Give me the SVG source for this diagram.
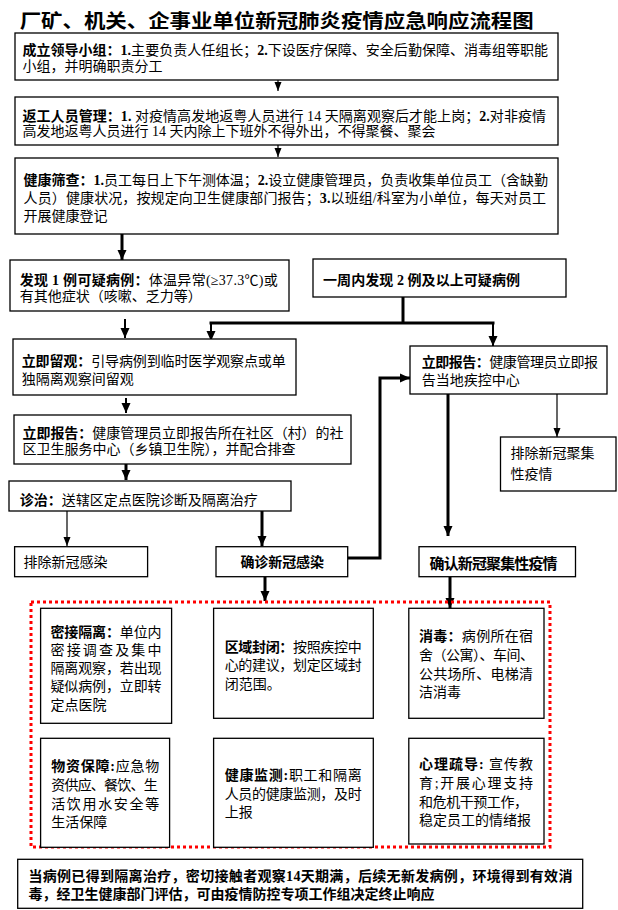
<svg xmlns="http://www.w3.org/2000/svg" width="618" height="910" viewBox="0 0 618 910">
<style>
.bx{fill:#fff;stroke:#000;stroke-width:1.3}
.t{font-family:"Liberation Serif","Noto Sans CJK SC",serif;font-size:14px;fill:#000}
.b{font-weight:bold}
.ti{font-family:"Noto Sans CJK SC",sans-serif;font-size:19.5px;font-weight:bold;fill:#000}
.c{fill:none;stroke:#000}
.k3{stroke-width:3}
.k2{stroke-width:2}
.k1{stroke-width:1.2}
.dot{fill:none;stroke:#ff0000;stroke-width:3;stroke-dasharray:3 3}
</style>
<defs>
<marker id="ab" markerUnits="userSpaceOnUse" markerWidth="10" markerHeight="10" refX="10" refY="5" orient="auto"><path d="M0,0.5 L10,5 L0,9.5 z" fill="#000"/></marker>
<marker id="as" markerUnits="userSpaceOnUse" markerWidth="9" markerHeight="8" refX="9" refY="4" orient="auto"><path d="M0,0.5 L9,4 L0,7.5 z" fill="#000"/></marker>
</defs>
<rect width="618" height="910" fill="#fff"/>
<text class="ti" x="19.7" y="28" textLength="514" lengthAdjust="spacingAndGlyphs">厂矿、机关、企事业单位新冠肺炎疫情应急响应流程图</text>

<g id="connectors">
<line class="c k1" x1="278" y1="80" x2="278" y2="91" marker-end="url(#as)"/>
<line class="c k1" x1="278" y1="145" x2="278" y2="157" marker-end="url(#as)"/>
<line class="c k3" x1="122" y1="234" x2="122" y2="260" marker-end="url(#ab)"/>
<line class="c k2" x1="125" y1="319" x2="125" y2="338" marker-end="url(#ab)"/>
<polyline class="c k3" points="403,297 403,323"/>
<line class="c k3" x1="209.5" y1="323" x2="494.5" y2="323"/>
<line class="c k2" x1="211" y1="323" x2="211" y2="341" marker-end="url(#ab)"/>
<line class="c k2" x1="493" y1="323" x2="493" y2="346" marker-end="url(#ab)"/>
<line class="c k2" x1="126" y1="398" x2="126" y2="413" marker-end="url(#ab)"/>
<line class="c k3" x1="126" y1="464" x2="126" y2="480" marker-end="url(#ab)"/>
<line class="c k1" x1="67" y1="511" x2="67" y2="546" marker-end="url(#as)"/>
<line class="c k3" x1="262" y1="511" x2="262" y2="546" marker-end="url(#ab)"/>
<polyline class="c k3" points="348,558 380,558 380,378 410,378" marker-end="url(#ab)"/>
<line class="c k1" x1="557" y1="394" x2="557" y2="437" marker-end="url(#as)"/>
<line class="c k3" x1="448" y1="394" x2="448" y2="536" marker-end="url(#ab)"/>
<line class="c k3" x1="265" y1="577" x2="265" y2="601" marker-end="url(#ab)"/>
<line class="c k3" x1="450" y1="577" x2="450" y2="608" marker-end="url(#ab)"/>
</g>

<g id="n1">
<rect class="bx" x="15" y="33" width="543" height="47"/>
<text class="t" x="22.5" y="55" textLength="525.5"><tspan class="b">成立领导小组：1.</tspan>主要负责人任组长；<tspan class="b">2.</tspan>下设医疗保障、安全后勤保障、消毒组等职能</text>
<text class="t" x="22.5" y="71">小组，并明确职责分工</text>
</g>
<g id="n2">
<rect class="bx" x="15" y="97" width="543" height="48"/>
<text class="t" x="22.5" y="120.5" textLength="523.5"><tspan class="b">返工人员管理：1.</tspan> 对疫情高发地返粤人员进行 14 天隔离观察后才能上岗；<tspan class="b">2.</tspan>对非疫情</text>
<text class="t" x="22.5" y="135.5" textLength="413">高发地返粤人员进行 14 天内除上下班外不得外出，不得聚餐、聚会</text>
</g>
<g id="n3">
<rect class="bx" x="15" y="158" width="543" height="76"/>
<text class="t" x="23.6" y="185" textLength="524.4"><tspan class="b">健康筛查：1.</tspan>员工每日上下午测体温；<tspan class="b">2.</tspan>设立健康管理员，负责收集单位员工（含缺勤</text>
<text class="t" x="23.6" y="203" textLength="522.4">人员）健康状况，按规定向卫生健康部门报告；<tspan class="b">3.</tspan>以班组/科室为小单位，每天对员工</text>
<text class="t" x="23.6" y="221">开展健康登记</text>
</g>
<g id="n4">
<rect class="bx" x="10" y="260" width="279" height="51"/>
<text class="t" x="19.7" y="284.5" textLength="258"><tspan class="b">发现 1 例可疑病例：</tspan>体温异常(≥37.3℃)或</text>
<text class="t" x="19.7" y="301">有其他症状（咳嗽、乏力等）</text>
</g>
<g id="n5">
<rect class="bx" x="313" y="259" width="253" height="38"/>
<text class="t b" x="323" y="285" textLength="197">一周内发现 2 例及以上可疑病例</text>
</g>
<g id="n6">
<rect class="bx" x="13" y="339" width="283" height="56"/>
<text class="t" x="21.7" y="366" textLength="264"><tspan class="b">立即留观：</tspan>引导病例到临时医学观察点或单</text>
<text class="t" x="21.7" y="384">独隔离观察间留观</text>
</g>
<g id="n7">
<rect class="bx" x="410" y="346" width="197" height="48"/>
<text class="t" x="421.7" y="367" textLength="176.3"><tspan class="b">立即报告：</tspan>健康管理员立即报</text>
<text class="t" x="421.7" y="384.5">告当地疾控中心</text>
</g>
<g id="n8">
<rect class="bx" x="14" y="415" width="337" height="49"/>
<text class="t" x="22.5" y="438" textLength="321"><tspan class="b">立即报告：</tspan>健康管理员立即报告所在社区（村）的社</text>
<text class="t" x="22.5" y="453.5">区卫生服务中心（乡镇卫生院），并配合排查</text>
</g>
<g id="n9">
<rect class="bx" x="500.5" y="437" width="115.5" height="54"/>
<text class="t" x="510.5" y="458">排除新冠聚集</text>
<text class="t" x="510.5" y="479">性疫情</text>
</g>
<g id="n10">
<rect class="bx" x="9" y="481" width="282" height="30"/>
<text class="t" x="19.7" y="504.5" textLength="238"><tspan class="b">诊治：</tspan>送辖区定点医院诊断及隔离治疗</text>
</g>
<g id="n11">
<rect class="bx" x="14.6" y="546.7" width="133" height="30"/>
<text class="t" x="23.6" y="567">排除新冠感染</text>
</g>
<g id="n12">
<rect class="bx" x="216" y="546.7" width="131.7" height="30"/>
<text class="t b" x="240.4" y="567" textLength="83.6">确诊新冠感染</text>
</g>
<g id="n13">
<rect class="bx" x="419" y="546.7" width="156.5" height="30"/>
<text class="t b" x="429.6" y="568.5" style="font-size:15px" textLength="128">确认新冠聚集性疫情</text>
</g>

<rect class="dot" x="31" y="602" width="519" height="245"/>

<g id="n14">
<rect class="bx" x="40.6" y="608.3" width="131" height="115"/>
<text class="t" x="50.5" y="637" textLength="111"><tspan class="b">密接隔离：</tspan>单位内</text>
<text class="t" x="50.5" y="654.5" textLength="111">密接调查及集中</text>
<text class="t" x="50.5" y="672.5" textLength="111">隔离观察，若出现</text>
<text class="t" x="50.5" y="691" textLength="111">疑似病例，立即转</text>
<text class="t" x="50.5" y="710">定点医院</text>
</g>
<g id="n15">
<rect class="bx" x="213.6" y="608.3" width="159.7" height="110"/>
<text class="t" x="224.7" y="652" textLength="137"><tspan class="b">区域封闭：</tspan>按照疾控中</text>
<text class="t" x="224.7" y="670" textLength="137">心的建议，划定区域封</text>
<text class="t" x="224.7" y="688.5">闭范围。</text>
</g>
<g id="n16">
<rect class="bx" x="408.8" y="608.3" width="135.2" height="110"/>
<text class="t" x="419" y="641" textLength="114"><tspan class="b">消毒：</tspan>病例所在宿</text>
<text class="t" x="419" y="660" textLength="115">舍（公寓）、车间、</text>
<text class="t" x="419" y="678.5" textLength="114">公共场所、电梯清</text>
<text class="t" x="419" y="697">洁消毒</text>
</g>
<g id="n17">
<rect class="bx" x="40.6" y="738.3" width="129" height="109"/>
<text class="t" x="51.2" y="771" textLength="108"><tspan class="b">物资保障:</tspan>应急物</text>
<text class="t" x="51.2" y="790" textLength="106.5">资供应、餐饮、生</text>
<text class="t" x="51.2" y="808.5" textLength="108">活饮用水安全等</text>
<text class="t" x="51.2" y="827">生活保障</text>
</g>
<g id="n18">
<rect class="bx" x="213.6" y="738.3" width="159.7" height="109"/>
<text class="t" x="224.7" y="779.5" textLength="137"><tspan class="b">健康监测:</tspan>职工和隔离</text>
<text class="t" x="224.7" y="798.5" textLength="137">人员的健康监测，及时</text>
<text class="t" x="224.7" y="817">上报</text>
</g>
<g id="n19">
<rect class="bx" x="408.8" y="738.3" width="135.2" height="105.7"/>
<text class="t" x="419" y="769" textLength="114"><tspan class="b">心理疏导:</tspan> 宣传教</text>
<text class="t" x="419" y="788" textLength="114">育;开展心理支持</text>
<text class="t" x="419" y="807" textLength="109">和危机干预工作，</text>
<text class="t" x="419" y="825" textLength="112">稳定员工的情绪报</text>
</g>
<g id="n20">
<rect class="bx" x="17.7" y="859.3" width="565" height="49"/>
<text class="t b" x="28.4" y="881" textLength="544">当病例已得到隔离治疗，密切接触者观察14天期满，后续无新发病例，环境得到有效消</text>
<text class="t b" x="28.4" y="899">毒，经卫生健康部门评估，可由疫情防控专项工作组决定终止响应</text>
</g>
</svg>
